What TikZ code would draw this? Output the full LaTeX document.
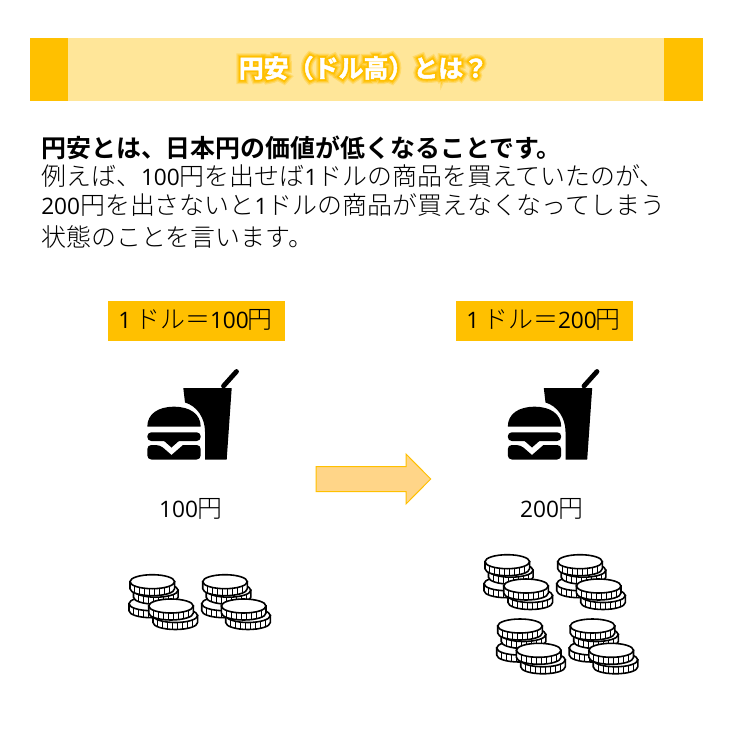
\documentclass[tikz,border=0pt]{standalone}
\usepackage{fontspec}
\usetikzlibrary{calc}
\setmainfont{Noto Sans CJK JP}[UprightFont=* Light,BoldFont=* Bold]
\newfontfamily\lat{Open Sans}
\definecolor{gold}{HTML}{FFC000}
\definecolor{pale}{HTML}{FFE699}
\definecolor{arrowfill}{HTML}{FFD588}
\newcommand{\Lt}[1]{{\lat\fontsize{17pt}{22pt}\selectfont #1}}
\newcommand{\TitleText}{円安（ドル高）とは？}
\newcommand{\coin}[2]{%
  \begin{scope}[shift={(#1,#2)}]
    \fill[white,draw=black,line width=1.2pt] (-22.3,0) -- (-22.3,7) .. controls (-22.3,10.9) and (-12.3,14) .. (0,14) .. controls (12.3,14) and (22.3,10.9) .. (22.3,7) -- (22.3,0) -- cycle;
    \foreach \t in {-17.5,-12.5,-7.5,-2.5,2.5,7.5,12.5,17.5}{
      \draw[line width=0.6pt] (\t,{7*sqrt(1-(\t/22.3)^2)}) -- ++(0,7);
    }
    \draw[fill=white,draw=black,line width=1.2pt] (0,0) ellipse[x radius=22.3,y radius=7];
  \end{scope}}
\newcommand{\pile}[2]{%
  \begin{scope}[shift={(#1,#2)}]
    \coin{-1}{22}
    \coin{3.5}{8.5}
    \coin{0}{0}
    \coin{23}{33.8}
    \coin{18.7}{24.3}
  \end{scope}}
\newcommand{\meal}[2]{%
  \begin{scope}[shift={(#1,#2)}]
    \draw[line width=3.6pt,line cap=round] (223.5,386) -- (236.5,371.5);
    \fill (183.3,388) -- (231.7,388) -- (226.7,459.5) -- (205,459.5) -- (205,431.7)
       .. controls (205,418) and (197,406) .. (185,402.5) -- cycle;
    \fill (147.3,426.7) .. controls (147.3,414) and (158,406.7) .. (174,406.7)
       .. controls (190,406.7) and (200.7,414) .. (200.7,426.7) -- cycle;
    \fill[rounded corners=3pt] (147.3,432.3) rectangle (200.7,441);
    \fill (163,440) -- (180,440) -- (171.5,447.5) -- cycle;
    \fill[rounded corners=3pt] (147.3,445) -- (160,445) [sharp corners] -- (171.5,455) -- (183,445) [rounded corners=3pt] -- (200.7,445) -- (200.7,459.5) -- (147.3,459.5) -- cycle;
  \end{scope}}
\tikzset{
  body/.style={anchor=west,inner sep=0pt,text=black,font=\fontsize{18.7pt}{22pt}\selectfont},
  strong/.style={body,font=\fontsize{18.7pt}{22pt}\selectfont\bfseries},
  caption/.style={inner sep=0pt,font=\fontsize{18.7pt}{22pt}\selectfont},
  heading/.style={inner sep=0pt,font=\fontsize{18.7pt}{22pt}\selectfont\bfseries},
}
\begin{document}
\begin{tikzpicture}[x=0.75pt,y=-0.75pt]
\useasboundingbox (0,0) rectangle (736,735);
\fill[white] (0,0) rectangle (736,735);
% header
\fill[pale] (30,38) rectangle (703,101);
\fill[gold] (30,38) rectangle (68,101);
\fill[gold] (664,38) rectangle (703,101);
\node[heading,text=gold,text opacity=0.3] (glow1) at (363.5,68) {\addfontfeature{FakeBold=36}\TitleText};
\node[heading,text=gold,text opacity=0.5] (glow2) at (363.5,68) {\addfontfeature{FakeBold=26}\TitleText};
\node[heading,text=gold] (glow3) at (363.5,68) {\addfontfeature{FakeBold=16}\TitleText};
\node[heading,text=white] (title) at (363.5,68) {\addfontfeature{FakeBold=2}\TitleText};
% body
\node[strong] (l1) at (41,147.5) {円安とは、日本円の価値が低くなることです。};
\node[body] (l2) at (41,176.5) {例えば、\Lt{100}円を出せば\Lt{1}ドルの商品を買えていたのが、};
\node[body] (l3) at (41,205.5) {\Lt{200}円を出さないと\Lt{1}ドルの商品が買えなくなってしまう};
\node[body] (l4) at (41,236.5) {状態のことを言います。};
% rate labels
\fill[gold] (108,301) rectangle (285,341);
\fill[gold] (456,301) rectangle (633,341);
\node[caption,anchor=west] (r1) at (118,320) {\Lt{1}\hspace{3pt}ドル＝\Lt{100}\hspace{-1pt}円};
\node[caption,anchor=west] (r2) at (466,320) {\Lt{1}\hspace{3pt}ドル＝\Lt{200}\hspace{-1pt}円};
% meals
\meal{0}{0}
\meal{360.5}{0}
\node[caption] (p1) at (191,509) {\Lt{100}円};
\node[caption] (p2) at (552,509) {\Lt{200}円};
% arrow
\draw[fill=arrowfill,draw=gold,line width=0.75pt] (316,466.7) -- (406,466.7) -- (406,454) -- (430.7,479) -- (406,504) -- (406,491.7) -- (316,491.7) -- cycle;
% coins
\pile{152.3}{581.7}
\pile{225}{581.7}
\pile{507.3}{561.7}
\pile{580}{561.7}
\pile{520}{626}
\pile{592.5}{626}
\end{tikzpicture}
\end{document}
